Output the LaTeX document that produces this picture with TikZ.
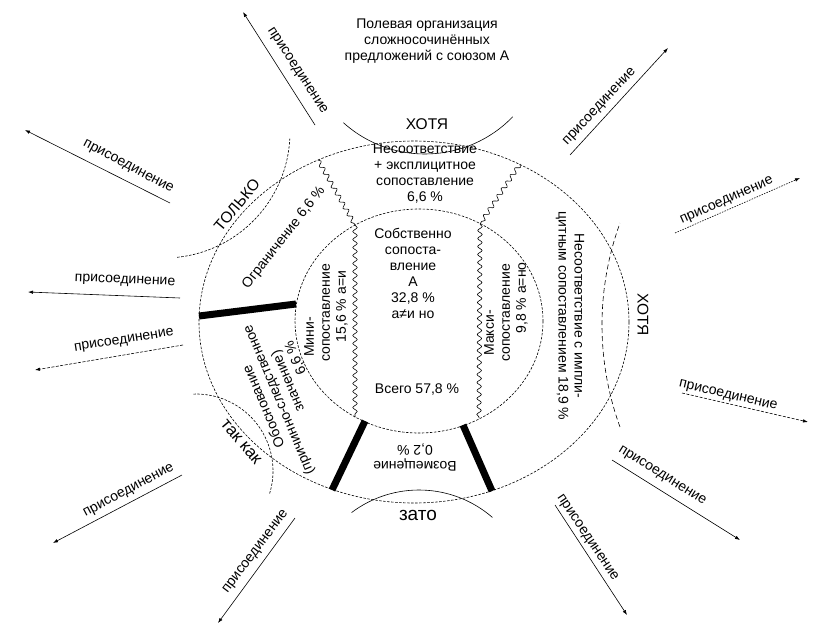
\documentclass[tikz,border=0pt]{standalone}
\usepackage{fontspec}
\setmainfont{Liberation Sans}
\usetikzlibrary{arrows.meta,decorations.pathmorphing}
\begin{document}
\begin{tikzpicture}[x=1pt,y=-1pt,
  txt/.style={font=\fontsize{14}{16}\selectfont, inner sep=0pt, align=center},
  conj/.style={font=\fontsize{15.5}{18}\selectfont, inner sep=0pt},
  lbl/.style={font=\fontsize{14}{16}\selectfont, inner sep=0pt},
  arr/.style={line width=0.6pt, -{Latex[length=5pt,width=3.5pt]}},
  ring/.style={line width=0.6pt, dash pattern=on 2.5pt off 1.5pt},
  lens/.style={line width=0.6pt},
  longdash/.style={line width=0.6pt, dash pattern=on 5pt off 3pt},
  wave/.style={line width=0.6pt, decorate, decoration={snake, segment length=8pt, amplitude=2.2pt}},
  bar/.style={line width=7pt},
]
\fill[white] (0,0) rectangle (835,632);
\useasboundingbox (0,0) rectangle (835,632);

% rings
\coordinate (O) at (414,322);
\coordinate (I) at (419,321);
\draw[ring] (O) ellipse [x radius=215, y radius=181];
\draw[ring] (I) ellipse [x radius=124, y radius=112];

% wavy borders
\coordinate (wl1) at (318,160);
\coordinate (wl2) at (355,225);
\coordinate (wl3) at (355,417);
\coordinate (wr1) at (520,164);
\coordinate (wr2) at (480,224);
\coordinate (wr3) at (479,418);
\draw[wave] (wl1) -- (wl2);
\draw[wave] (wl2) -- (wl3);
\draw[wave] (wr1) -- (wr2);
\draw[wave] (wr2) -- (wr3);

% thick bars
\coordinate (b1o) at (199,316);
\coordinate (b1i) at (296,304);
\coordinate (b2i) at (365,421);
\coordinate (b2o) at (332,490);
\coordinate (b3i) at (463,425);
\coordinate (b3o) at (492,491);
\draw[bar] (b1o) -- (b1i);
\draw[bar] (b2i) -- (b2o);
\draw[bar] (b3i) -- (b3o);

% lens arcs
\draw[lens] (425,32) ++(132:122) arc[start angle=132, end angle=44, radius=122];
\draw[ring] (164,132) ++(84:126) arc[start angle=84, end angle=3, radius=126];
\draw[ring] (196,471) ++(-92:77) arc[start angle=-92, end angle=17, radius=77];
\draw[longdash] (900,325) ++(160:298) arc[start angle=160, end angle=200, radius=298];
\draw[lens] (419,602) ++(-127:112) arc[start angle=-127, end angle=-49, radius=112];

% texts
\node[txt] (title) at (427,41) {Полевая организация\\сложносочинённых\\предложений с союзом А};
\node[txt] (nes) at (425,174) {Несоответствие\\+ эксплицитное\\сопоставление\\6,6 \%};
\node[txt] (sob) at (413,273) {Собственно\\сопоста-\\вление\\А\\32,8 \%\\а≠и но};
\node[txt] (vse) at (417,390) {Всего 57,8 \%};
\node[txt, rotate=90] (mini) at (326,313) {Мини-\hspace*{48pt}\\сопоставление\\\hspace*{13pt}15,6 \% а=и};
\node[txt, rotate=90] (maxi) at (506,313) {Макси-\hspace*{40pt}\\сопоставление\\\hspace*{30pt}9,8 \% а=но};
\node[txt, rotate=-90] (nesimp) at (570,316) {Несоответствие с импли-\\цитным сопоставлением 18,9 \%};
\node[txt, rotate=180] (voz) at (415,457) {Возмещение\\0,2 \%};
\node[txt, rotate=52] (ogr) at (284,238) {Ограничение 6,6 \%};
\node[txt, rotate=113] (obos) at (286,397) {Обоснование\\(причинно-следственное\\\hspace*{28pt}значение)\\\hspace*{64pt}6,6 \%};

% conjunctions
\node[conj] (k1) at (427,124) {ХОТЯ};
\node[conj, rotate=-90] (k2) at (643,315) {ХОТЯ};
\node[conj, rotate=50] (k3) at (237,205) {ТОЛЬКО};
\node[conj, rotate=-50, font=\fontsize{17}{20}\selectfont] (k4) at (241,442) {так как};
\node[conj, font=\fontsize{19}{22}\selectfont] (k5) at (418,515) {зато};

% arrows "присоединение"
\coordinate (a1s) at (315,125);  \coordinate (a1e) at (243,12);
\coordinate (a2s) at (170,203);  \coordinate (a2e) at (25,130);
\coordinate (a3s) at (180,298);  \coordinate (a3e) at (28,292);
\coordinate (a4s) at (183,345);  \coordinate (a4e) at (35,370);
\coordinate (a5s) at (182,475);  \coordinate (a5e) at (53,543);
\coordinate (a6s) at (295,518);  \coordinate (a6e) at (218,623);
\coordinate (a7s) at (570,155);  \coordinate (a7e) at (668,48);
\coordinate (a8s) at (675,233);  \coordinate (a8e) at (800,178);
\coordinate (a9s) at (682,393);  \coordinate (a9e) at (808,422);
\coordinate (a10s) at (612,460); \coordinate (a10e) at (740,540);
\coordinate (a11s) at (555,505); \coordinate (a11e) at (627,615);

\draw[arr] (a1s) -- (a1e);
\draw[arr] (a2s) -- (a2e);
\draw[arr] (a3s) -- (a3e);
\draw[arr, dash pattern=on 3pt off 1.5pt] (a4s) -- (a4e);
\draw[arr] (a5s) -- (a5e);
\draw[arr] (a6s) -- (a6e);
\draw[arr] (a7s) -- (a7e);
\draw[arr, dash pattern=on 1.5pt off 1.2pt] (a8s) -- (a8e);
\draw[arr, dash pattern=on 3pt off 1.5pt] (a9s) -- (a9e);
\draw[arr] (a10s) -- (a10e);
\draw[arr] (a11s) -- (a11e);

\node[lbl, rotate=-57] (l1) at (297,71) {присоединение};
\node[lbl, rotate=-28] (l2) at (128,167) {присоединение};
\node[lbl, rotate=-2.5] (l3) at (125,281) {присоединение};
\node[lbl, rotate=9] (l4) at (124,341) {присоединение};
\node[lbl, rotate=28] (l5) at (129,491) {присоединение};
\node[lbl, rotate=53] (l6) at (256,552) {присоединение};
\node[lbl, rotate=47] (l7) at (600,107) {присоединение};
\node[lbl, rotate=24] (l8) at (727,201) {присоединение};
\node[lbl, rotate=-13] (l9) at (728,396) {присоединение};
\node[lbl, rotate=-32] (l10) at (662,476) {присоединение};
\node[lbl, rotate=-56] (l11) at (587,538) {присоединение};
\end{tikzpicture}
\end{document}
